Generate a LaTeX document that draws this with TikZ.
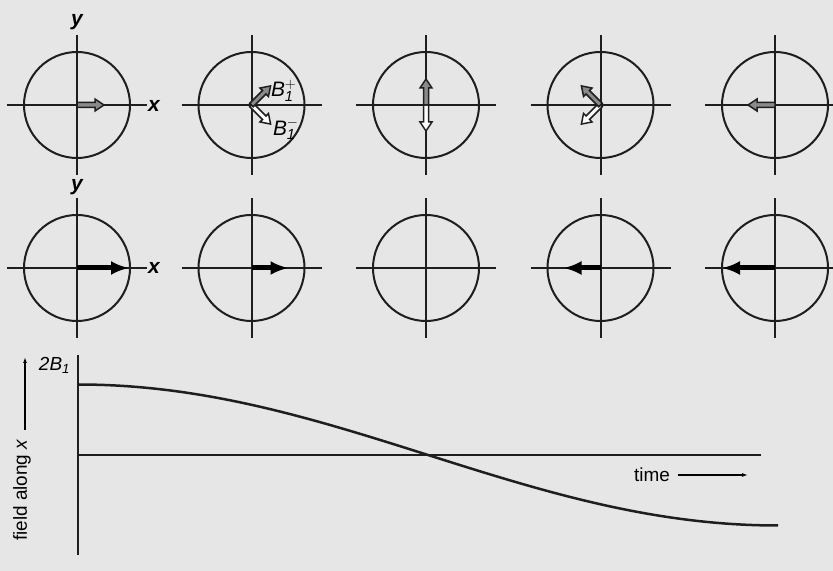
\documentclass[tikz,border=0pt]{standalone}
\usepackage{fontspec}
\setmainfont{Liberation Sans}
\usetikzlibrary{arrows.meta, calc}
\definecolor{cbg}{HTML}{E6E6E6}
\definecolor{cgrey}{HTML}{8A8A8A}
\definecolor{cdark}{HTML}{1E1E1E}
\tikzset{
  every picture/.style={line width=2bp},
  axis/.style={draw=cdark, line width=2bp},
  ring/.style={circle, draw=cdark, line width=2bp, minimum size=106bp, inner sep=0pt},
  lbl/.style={font=\fontsize{19}{22}\selectfont, inner sep=1pt},
  blbl/.style={font=\fontsize{21}{24}\selectfont, inner sep=1pt},
  axlbl/.style={font=\fontsize{21}{24}\selectfont\bfseries\itshape, inner sep=1pt},
  field/.style={-{Latex[length=18bp,width=14bp]}, line width=5bp},
  hollow/.style={draw=cdark, line width=1.5bp, line join=miter},
  timearrow/.style={-{Latex[length=6bp,width=4bp]}, line width=1.4bp},
}
% rotating field component: centre, angle, length, fill
\newcommand\rfarrow[4]{%
  \filldraw[hollow, fill=#4, shift={(#1)}, rotate=#2]
    (0,-2.5) -- ({#3-9},-2.5) -- ({#3-9},-6) -- (#3,0) -- ({#3-9},6) -- ({#3-9},2.5) -- (0,2.5) -- cycle;}

\begin{document}
\begin{tikzpicture}[x=1bp, y=1bp]
  \useasboundingbox (0,0) rectangle (833,571);
  \fill[cbg] (0,0) rectangle (833,571);
  \clip (0,0) rectangle (833,571);
  % circles and axes
  \foreach \cx [count=\k] in {77,251.5,426,600.5,775} {
    \node[ring] (t\k) at (\cx,466) {};
    \node[ring] (b\k) at (\cx,303) {};
    \draw[axis] ($(t\k)+(-70,0)$) -- ($(t\k)+(70,0)$);
    \draw[axis] ($(t\k)+(0,-70)$) -- ($(t\k)+(0,70)$);
    \draw[axis] ($(b\k)+(-70,0)$) -- ($(b\k)+(70,0)$);
    \draw[axis] ($(b\k)+(0,-70)$) -- ($(b\k)+(0,70)$);
  }
  \node[axlbl] (ty) at (77,549) {y};
  \node[axlbl] (tx) at (154,465) {x};
  \node[axlbl] (by) at (77,384) {y};
  \node[axlbl] (bx) at (154,303) {x};
  % top row: the two counter-rotating components
  \rfarrow{t1.center}{0}{27}{cgrey}
  \rfarrow{t2.center}{-45}{27}{white}
  \rfarrow{t2.center}{45}{27}{cgrey}
  \rfarrow{t3.center}{-90}{26}{white}
  \rfarrow{t3.center}{90}{26}{cgrey}
  \rfarrow{t4.center}{-135}{27}{white}
  \rfarrow{t4.center}{135}{27}{cgrey}
  \rfarrow{t5.center}{180}{27}{cgrey}
  \node[blbl, anchor=west] (bp) at (269,480) {$\mathit{B}^{\mathrm{+}}_{\mathit{1}}$};
  \node[blbl, anchor=west] (bm) at (271,442) {$\mathit{B}^{\mathrm{-}}_{\mathit{1}}$};
  % bottom row: resultant along x
  \draw[field] (b1.center) -- ++(52,0);
  \draw[field] (b2.center) -- ++(37,0);
  \draw[field] (b4.center) -- ++(-37,0);
  \draw[field] (b5.center) -- ++(-53,0);
  % field along x against time
  \coordinate (o) at (78,116);
  \draw[axis] (78,216) -- (78,16);
  \draw[axis] (o) -- (761,116);
  \draw[line width=2.5bp, cdark] plot[domain=78:778, samples=80, smooth] (\x, {116+70.5*cos((\x-78)/700*180)});
  \node[lbl, anchor=east] (top) at (72,206) {$\mathit{2B}_{\mathit{1}}$};
  \node[lbl] (time) at (652,96) {time};
  \coordinate (tend) at (748,96);
  \draw[timearrow] (time.east) ++(6,0) -- (tend);
  \node[lbl, rotate=90] (fx) at (22,81) {field along \textit{x}};
  \coordinate (fbeg) at (25,141);
  \coordinate (fend) at (25,214);
  \draw[timearrow] (fbeg) -- (fend);
\end{tikzpicture}
\end{document}
